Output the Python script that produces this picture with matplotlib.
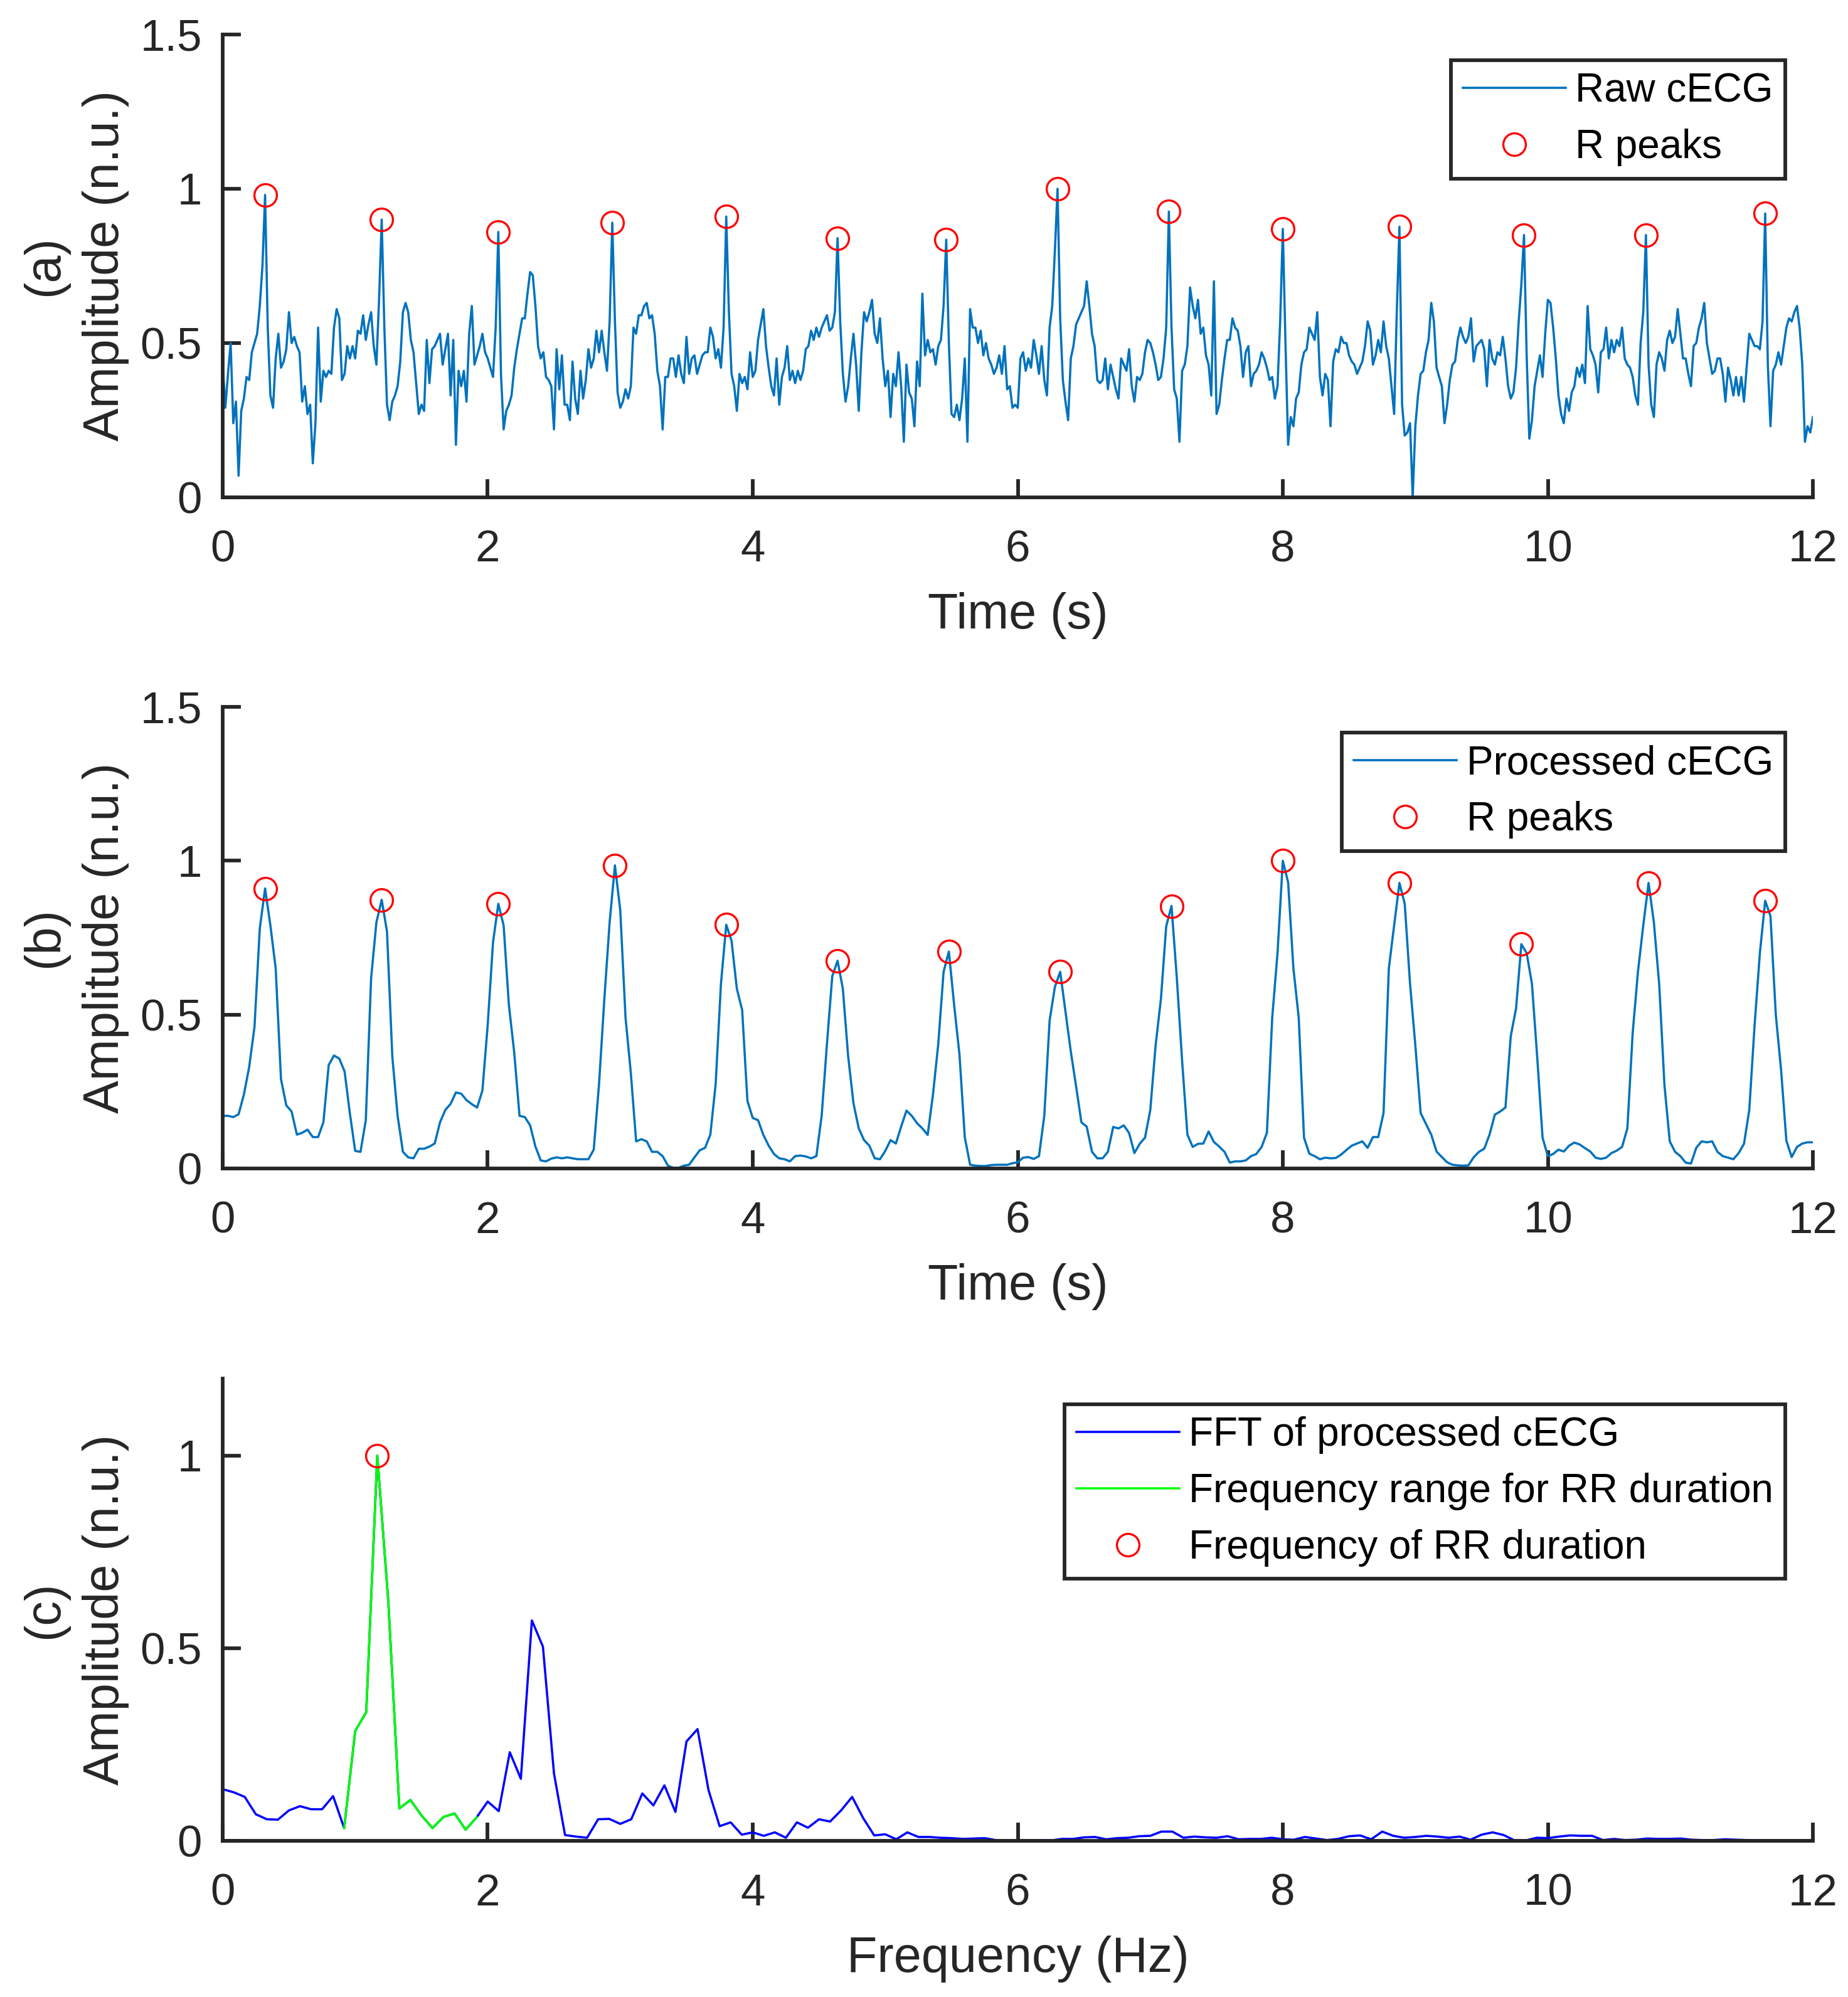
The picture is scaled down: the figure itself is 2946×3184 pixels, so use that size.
import numpy as np
import matplotlib
matplotlib.use('Agg')
import matplotlib.pyplot as plt
from matplotlib.ticker import FuncFormatter

plt.rcParams['font.family'] = ['Liberation Sans', 'DejaVu Sans']

# sampling of the traces
fs_raw = 50      # Hz, raw cECG samples
fs_proc = 25     # Hz, processed cECG samples
df_fft = 1 / 12  # Hz, FFT bin width

raw_cecg = [
    0.43, 0.29, 0.40, 0.50, 0.24, 0.31, 0.07, 0.28, 0.32, 0.39,
    0.38, 0.47, 0.50, 0.53, 0.62, 0.75, 0.98, 0.55, 0.33, 0.29,
    0.45, 0.53, 0.42, 0.44, 0.48, 0.60, 0.50, 0.52, 0.49, 0.47,
    0.31, 0.36, 0.27, 0.30, 0.11, 0.24, 0.55, 0.31, 0.41, 0.39,
    0.41, 0.40, 0.55, 0.61, 0.58, 0.38, 0.40, 0.49, 0.45, 0.49,
    0.45, 0.54, 0.53, 0.59, 0.51, 0.56, 0.60, 0.49, 0.43, 0.64,
    0.90, 0.55, 0.30, 0.25, 0.31, 0.33, 0.36, 0.44, 0.60, 0.63,
    0.60, 0.51, 0.47, 0.37, 0.27, 0.30, 0.28, 0.51, 0.37, 0.48,
    0.49, 0.51, 0.53, 0.43, 0.48, 0.53, 0.33, 0.51, 0.17, 0.41,
    0.36, 0.41, 0.31, 0.53, 0.62, 0.43, 0.46, 0.49, 0.53, 0.47,
    0.45, 0.42, 0.39, 0.55, 0.86, 0.40, 0.22, 0.28, 0.30, 0.33,
    0.42, 0.48, 0.53, 0.58, 0.58, 0.66, 0.73, 0.72, 0.62, 0.49,
    0.45, 0.47, 0.39, 0.38, 0.36, 0.22, 0.48, 0.35, 0.46, 0.30,
    0.30, 0.25, 0.44, 0.32, 0.27, 0.41, 0.32, 0.38, 0.48, 0.42,
    0.45, 0.54, 0.47, 0.54, 0.47, 0.41, 0.57, 0.89, 0.57, 0.34,
    0.29, 0.31, 0.35, 0.32, 0.36, 0.55, 0.53, 0.59, 0.59, 0.62,
    0.63, 0.58, 0.59, 0.53, 0.41, 0.36, 0.22, 0.39, 0.39, 0.45,
    0.45, 0.39, 0.46, 0.40, 0.37, 0.52, 0.40, 0.45, 0.46, 0.40,
    0.43, 0.46, 0.47, 0.47, 0.55, 0.52, 0.45, 0.48, 0.42, 0.55,
    0.91, 0.60, 0.40, 0.36, 0.28, 0.40, 0.37, 0.39, 0.35, 0.47,
    0.39, 0.41, 0.51, 0.56, 0.61, 0.49, 0.42, 0.36, 0.33, 0.45,
    0.30, 0.39, 0.42, 0.49, 0.38, 0.41, 0.37, 0.41, 0.38, 0.41,
    0.48, 0.49, 0.54, 0.51, 0.55, 0.52, 0.55, 0.57, 0.59, 0.54,
    0.55, 0.60, 0.84, 0.57, 0.40, 0.31, 0.36, 0.45, 0.53, 0.43,
    0.28, 0.47, 0.60, 0.57, 0.60, 0.64, 0.53, 0.50, 0.58, 0.45,
    0.36, 0.41, 0.26, 0.40, 0.36, 0.47, 0.36, 0.18, 0.43, 0.34,
    0.32, 0.23, 0.44, 0.36, 0.66, 0.46, 0.51, 0.47, 0.48, 0.43,
    0.49, 0.51, 0.62, 0.835, 0.50, 0.27, 0.26, 0.30, 0.25, 0.32,
    0.45, 0.18, 0.61, 0.55, 0.55, 0.50, 0.54, 0.46, 0.50, 0.45,
    0.43, 0.40, 0.42, 0.46, 0.40, 0.49, 0.35, 0.36, 0.29, 0.30,
    0.29, 0.45, 0.47, 0.41, 0.45, 0.42, 0.51, 0.46, 0.40, 0.49,
    0.38, 0.33, 0.55, 0.62, 0.80, 1.00, 0.58, 0.38, 0.31, 0.25,
    0.45, 0.49, 0.56, 0.58, 0.60, 0.62, 0.70, 0.62, 0.53, 0.49,
    0.38, 0.37, 0.38, 0.45, 0.35, 0.43, 0.39, 0.35, 0.32, 0.45,
    0.43, 0.41, 0.48, 0.36, 0.31, 0.39, 0.38, 0.40, 0.47, 0.51,
    0.50, 0.47, 0.43, 0.38, 0.39, 0.45, 0.55, 0.926, 0.55, 0.35,
    0.32, 0.18, 0.41, 0.43, 0.49, 0.68, 0.62, 0.58, 0.64, 0.53,
    0.55, 0.46, 0.43, 0.33, 0.70, 0.27, 0.30, 0.38, 0.45, 0.51,
    0.51, 0.58, 0.55, 0.54, 0.49, 0.39, 0.47, 0.49, 0.36, 0.40,
    0.41, 0.43, 0.47, 0.45, 0.42, 0.38, 0.39, 0.32, 0.36, 0.57,
    0.87, 0.50, 0.17, 0.26, 0.23, 0.32, 0.34, 0.43, 0.47, 0.48,
    0.55, 0.53, 0.51, 0.60, 0.39, 0.33, 0.40, 0.38, 0.23, 0.44,
    0.48, 0.47, 0.52, 0.50, 0.50, 0.46, 0.44, 0.43, 0.40, 0.42,
    0.44, 0.49, 0.57, 0.54, 0.43, 0.46, 0.51, 0.47, 0.57, 0.49,
    0.45, 0.36, 0.27, 0.60, 0.877, 0.30, 0.20, 0.21, 0.24, 0.00,
    0.23, 0.33, 0.40, 0.41, 0.47, 0.51, 0.63, 0.57, 0.42, 0.39,
    0.36, 0.24, 0.30, 0.38, 0.43, 0.44, 0.51, 0.55, 0.52, 0.50,
    0.52, 0.58, 0.44, 0.49, 0.50, 0.51, 0.48, 0.36, 0.51, 0.45,
    0.43, 0.47, 0.46, 0.52, 0.45, 0.36, 0.32, 0.34, 0.42, 0.57,
    0.69, 0.85, 0.46, 0.19, 0.25, 0.36, 0.41, 0.46, 0.39, 0.53,
    0.64, 0.63, 0.55, 0.45, 0.33, 0.27, 0.24, 0.32, 0.28, 0.34,
    0.36, 0.42, 0.39, 0.43, 0.37, 0.62, 0.48, 0.46, 0.43, 0.34,
    0.47, 0.48, 0.55, 0.45, 0.51, 0.47, 0.51, 0.49, 0.55, 0.45,
    0.43, 0.42, 0.39, 0.33, 0.30, 0.50, 0.60, 0.85, 0.43, 0.30,
    0.26, 0.43, 0.47, 0.45, 0.41, 0.51, 0.54, 0.50, 0.52, 0.61,
    0.53, 0.45, 0.45, 0.40, 0.36, 0.49, 0.50, 0.55, 0.58, 0.63,
    0.50, 0.45, 0.40, 0.41, 0.45, 0.45, 0.40, 0.31, 0.42, 0.38,
    0.33, 0.39, 0.33, 0.39, 0.31, 0.42, 0.53, 0.51, 0.49, 0.49,
    0.48, 0.57, 0.92, 0.43, 0.23, 0.41, 0.43, 0.47, 0.43, 0.49,
    0.55, 0.58, 0.57, 0.60, 0.62, 0.55, 0.43, 0.18, 0.23, 0.21,
    0.26,
]

proc_cecg = [
    0.171, 0.171, 0.167, 0.176, 0.24, 0.33, 0.46, 0.78, 0.91, 0.79,
    0.65, 0.29, 0.205, 0.185, 0.11, 0.116, 0.126, 0.102, 0.102, 0.15,
    0.336, 0.367, 0.357, 0.315, 0.178, 0.057, 0.054, 0.157, 0.618, 0.80,
    0.873, 0.77, 0.364, 0.171, 0.054, 0.036, 0.033, 0.064, 0.064, 0.071,
    0.081, 0.15, 0.19, 0.21, 0.247, 0.243, 0.222, 0.209, 0.198, 0.253,
    0.467, 0.735, 0.86, 0.79, 0.53, 0.377, 0.171, 0.167, 0.14, 0.071,
    0.026, 0.023, 0.032, 0.036, 0.033, 0.036, 0.033, 0.03, 0.03, 0.03,
    0.061, 0.274, 0.55, 0.80, 0.985, 0.84, 0.49, 0.31, 0.088, 0.095,
    0.088, 0.054, 0.054, 0.04, 0.009, 0.002, 0.002, 0.009, 0.012, 0.036,
    0.059, 0.067, 0.11, 0.274, 0.60, 0.792, 0.74, 0.584, 0.515, 0.219,
    0.164, 0.157, 0.109, 0.074, 0.047, 0.033, 0.03, 0.023, 0.04, 0.042,
    0.039, 0.033, 0.04, 0.171, 0.405, 0.625, 0.675, 0.584, 0.364, 0.212,
    0.13, 0.092, 0.074, 0.033, 0.03, 0.057, 0.092, 0.081, 0.136, 0.188,
    0.171, 0.147, 0.13, 0.109, 0.24, 0.405, 0.639, 0.705, 0.53, 0.37,
    0.102, 0.012, 0.009, 0.008, 0.008, 0.011, 0.012, 0.012, 0.012, 0.017,
    0.02, 0.035, 0.037, 0.031, 0.04, 0.171, 0.48, 0.59, 0.639, 0.51,
    0.38, 0.267, 0.15, 0.136, 0.054, 0.033, 0.033, 0.054, 0.135, 0.13,
    0.14, 0.115, 0.05, 0.08, 0.10, 0.19, 0.40, 0.55, 0.787, 0.853,
    0.62, 0.35, 0.11, 0.07, 0.08, 0.081, 0.12, 0.086, 0.071, 0.054,
    0.019, 0.023, 0.023, 0.026, 0.04, 0.047, 0.07, 0.116, 0.49, 0.70,
    1.0, 0.93, 0.65, 0.49, 0.10, 0.048, 0.04, 0.03, 0.035, 0.033,
    0.034, 0.045, 0.06, 0.074, 0.081, 0.088, 0.067, 0.102, 0.102, 0.18,
    0.65, 0.79, 0.928, 0.86, 0.60, 0.40, 0.18, 0.145, 0.11, 0.055,
    0.037, 0.02, 0.012, 0.01, 0.009, 0.01, 0.036, 0.054, 0.064, 0.11,
    0.175, 0.185, 0.198, 0.43, 0.52, 0.729, 0.70, 0.60, 0.36, 0.10,
    0.04, 0.047, 0.061, 0.055, 0.074, 0.084, 0.078, 0.066, 0.055, 0.035,
    0.031, 0.035, 0.05, 0.058, 0.07, 0.13, 0.44, 0.64, 0.79, 0.928,
    0.80, 0.60, 0.27, 0.088, 0.054, 0.04, 0.019, 0.016, 0.067, 0.088,
    0.085, 0.088, 0.054, 0.04, 0.035, 0.03, 0.05, 0.08, 0.19, 0.465,
    0.70, 0.87, 0.82, 0.50, 0.32, 0.09, 0.037, 0.07, 0.081, 0.085,
    0.085,
]

fft_amp = [
    0.134, 0.126, 0.114, 0.069, 0.056, 0.055, 0.079, 0.090, 0.082, 0.082,
    0.116, 0.033, 0.285, 0.334, 1.000, 0.620, 0.084, 0.106, 0.066, 0.033,
    0.062, 0.071, 0.029, 0.061, 0.102, 0.077, 0.230, 0.161, 0.572, 0.504,
    0.175, 0.015, 0.011, 0.008, 0.056, 0.057, 0.044, 0.056, 0.123, 0.092,
    0.144, 0.075, 0.258, 0.290, 0.131, 0.038, 0.048, 0.016, 0.022, 0.013,
    0.022, 0.008, 0.048, 0.034, 0.056, 0.050, 0.079, 0.114, 0.059, 0.014,
    0.017, 0.004, 0.022, 0.010, 0.010, 0.008, 0.007, 0.005, 0.006, 0.007,
    0.002, 0.001, 0.001, 0.001, 0.001, 0.001, 0.005, 0.005, 0.009, 0.010,
    0.004, 0.007, 0.008, 0.012, 0.013, 0.024, 0.024, 0.008, 0.011, 0.009,
    0.008, 0.012, 0.004, 0.005, 0.005, 0.008, 0.004, 0.003, 0.010, 0.006,
    0.002, 0.005, 0.012, 0.014, 0.004, 0.024, 0.013, 0.008, 0.010, 0.013,
    0.011, 0.008, 0.011, 0.003, 0.016, 0.022, 0.015, 0.001, 0.001, 0.008,
    0.007, 0.011, 0.014, 0.013, 0.013, 0.002, 0.005, 0.002, 0.003, 0.006,
    0.005, 0.005, 0.006, 0.003, 0.002, 0.002, 0.004, 0.003, 0.002, 0.001,
    0.001, 0.001, 0.001, 0.001, 0.001,
]

# detected R peaks (sample indices) and the RR frequency band (FFT bins)
r_idx_raw = [16, 60, 104, 147, 190, 232, 273, 315, 357, 400, 444, 491, 537, 582]
r_idx_proc = [8, 30, 52, 74, 95, 116, 137, 158, 179, 200, 222, 245, 269, 291]
rr_bin = 14
rr_band = [11, 23]

AX_COL = '#262626'
SIG_COL = '#0072BD'

raw = np.array(raw_cecg)
proc = np.array(proc_cecg)
amp = np.array(fft_amp)
t_raw = np.arange(len(raw)) / fs_raw
t_proc = np.arange(len(proc)) / fs_proc
freq = np.arange(len(amp)) * df_fft


def style_axes(ax, ylab, xlab, ymax, yticks):
    ax.set_xlim(0, 12)
    ax.set_ylim(0, ymax)
    for s in ['top', 'right']:
        ax.spines[s].set_visible(False)
    for s in ['left', 'bottom']:
        ax.spines[s].set_color(AX_COL)
        ax.spines[s].set_linewidth(1.4)
    ax.tick_params(direction='in', length=7, width=1.4, color=AX_COL,
                   labelcolor=AX_COL, labelsize=17)
    ax.tick_params(axis='x', pad=12.4)
    ax.tick_params(axis='y', pad=8)
    ax.set_xticks(range(0, 13, 2))
    ax.set_yticks(yticks)
    ax.yaxis.set_major_formatter(FuncFormatter(lambda v, p: f'{v:g}'))
    ax.set_xlabel(xlab, fontsize=19, color=AX_COL, labelpad=8)
    ax.set_ylabel(ylab, fontsize=19, color=AX_COL, labelpad=4, linespacing=1.38)


def add_legend(ax):
    leg = ax.legend(loc='upper right', bbox_to_anchor=(0.9826, 0.944),
                    borderaxespad=0, fontsize=15.3, handlelength=2.57,
                    handletextpad=0.24, borderpad=0.3, labelspacing=0.47,
                    fancybox=False, framealpha=1, edgecolor=AX_COL, numpoints=1)
    leg.get_frame().set_linewidth(1.4)
    return leg


fig = plt.figure(figsize=(2946 / 300, 3184 / 300), dpi=300)
ax_a = fig.add_axes([0.1205, 0.751, 0.8605, 0.2317])
ax_b = fig.add_axes([0.1205, 0.4149, 0.8605, 0.2311])
ax_c = fig.add_axes([0.1205, 0.0782, 0.8605, 0.2315])

# (a) raw signal
ax_a.plot(t_raw, raw, color=SIG_COL, lw=0.85, label='Raw cECG')
ax_a.plot(t_raw[r_idx_raw], raw[r_idx_raw], 'o', mfc='none', mec='r', ms=8.6,
          mew=0.8, label='R peaks')
style_axes(ax_a, '(a)\nAmplitude (n.u.)', 'Time (s)', 1.5, [0, 0.5, 1, 1.5])
add_legend(ax_a)

# (b) processed signal
ax_b.plot(t_proc, proc, color=SIG_COL, lw=0.85, label='Processed cECG')
ax_b.plot(t_proc[r_idx_proc], proc[r_idx_proc], 'o', mfc='none', mec='r', ms=8.6,
          mew=0.8, label='R peaks')
style_axes(ax_b, '(b)\nAmplitude (n.u.)', 'Time (s)', 1.5, [0, 0.5, 1, 1.5])
add_legend(ax_b)

# (c) spectrum
lo, hi = rr_band
ax_c.plot(freq, amp, color='b', lw=0.85, label='FFT of processed cECG')
ax_c.plot(freq[lo:hi + 1], amp[lo:hi + 1], color=(0, 1, 0), lw=0.85,
          label='Frequency range for RR duration')
ax_c.plot([freq[rr_bin]], [amp[rr_bin]], 'o', mfc='none', mec='r', ms=8.6,
          mew=0.8, label='Frequency of RR duration')
style_axes(ax_c, '(c)\nAmplitude (n.u.)', 'Frequency (Hz)', 1.2, [0, 0.5, 1])
add_legend(ax_c)

fig.savefig('out.png', dpi=300)
